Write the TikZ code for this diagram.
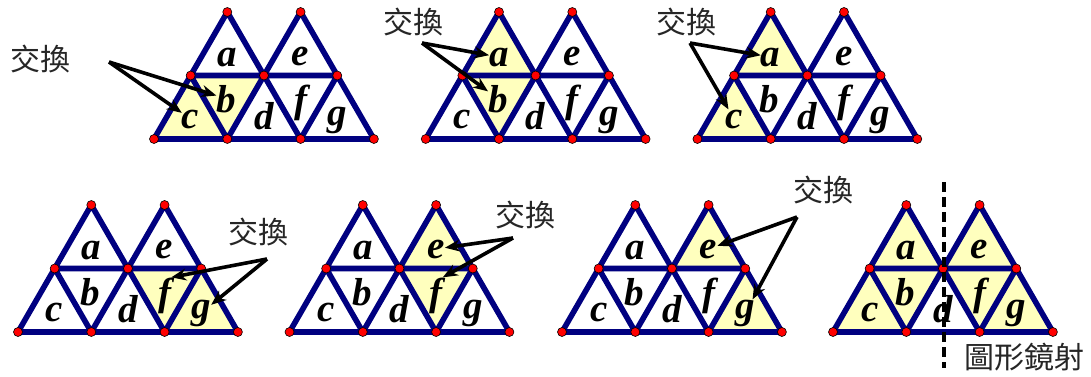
\documentclass[tikz,border=0pt]{standalone}
\usepackage{fontspec}
\setmainfont{Liberation Serif}
\newfontfamily\cellfont{Liberation Serif}[UprightFont={* Bold Italic}]
\newfontfamily\cjkfont{Noto Sans CJK TC}
\usetikzlibrary{arrows.meta}

\definecolor{gridblue}{RGB}{0,0,128}
\definecolor{cellyellow}{RGB}{255,255,190}
\definecolor{dotred}{RGB}{255,0,0}

% one seven-cell grid: #1 prefix, (#2,#3) lower left corner, #4 shaded cells
\newcommand{\trigrid}[4]{%
  \begin{scope}[shift={(#2,#3)}]
    \coordinate (#1b0) at (0,0);
    \coordinate (#1b1) at (73.3,0);
    \coordinate (#1b2) at (146.6,0);
    \coordinate (#1b3) at (219.9,0);
    \coordinate (#1m1) at (36.65,63.5);
    \coordinate (#1m2) at (109.95,63.5);
    \coordinate (#1m3) at (183.25,63.5);
    \coordinate (#1t1) at (73.3,127);
    \coordinate (#1t2) at (146.6,127);
    \foreach \u/\v/\w in {#4}
      \fill[cellfill] (#1\u) -- (#1\v) -- (#1\w) -- cycle;
    \draw[gridline] (#1b0) -- (#1b3) (#1m1) -- (#1m3)
      (#1b0) -- (#1t1) -- (#1b2) (#1b1) -- (#1t2) -- (#1b3)
      (#1m1) -- (#1b1) (#1b2) -- (#1m3);
    \foreach \p in {b0,b1,b2,b3,m1,m2,m3,t1,t2}
      \node[vertexdot] (#1\p-dot) at (#1\p) {};
    \node[cellname] (#1a) at (73.3,73) {a};
    \node[cellname] (#1e) at (146.6,74) {e};
    \node[cellname] (#1c) at (36.65,11) {c};
    \node[cellname] (#1b) at (72.3,27) {b};
    \node[cellname] (#1d) at (109.95,10) {d};
    \node[cellname] (#1f) at (146.6,27) {f};
    \node[cellname] (#1g) at (183.25,14) {g};
  \end{scope}}

\begin{document}
\begin{tikzpicture}[
    x=1pt, y=1pt,
    gridline/.style={draw=gridblue, line width=5.6pt, line cap=round, line join=round},
    cellfill/.style={fill=cellyellow},
    vertexdot/.style={
      circle, fill=dotred, draw=black, line width=0.6pt,
      minimum size=9pt, inner sep=0pt
    },
    cellname/.style={font=\fontsize{39}{39}\cellfont, inner sep=0pt, anchor=base},
    swaptext/.style={font=\fontsize{30}{30}\cjkfont, text=black!85, inner sep=0pt},
    swaparr/.style={-{Stealth[length=15pt,width=12pt]}, line width=3.6pt, black},
    mirrorline/.style={black, line width=3.4pt, dash pattern=on 10pt off 5pt},
]
\path[use as bounding box, fill=white] (0,0) rectangle (1091,376);

% ===== TOP ROW =====
\trigrid{p1}{154}{237}{m1/m2/b1, b0/m1/b1}
\trigrid{p2}{425.7}{237}{m1/t1/m2, m1/m2/b1}
\trigrid{p3}{697.4}{237}{m1/t1/m2, b0/m1/b1}

% ===== BOTTOM ROW =====
\trigrid{p4}{18}{44}{m2/m3/b2, b2/m3/b3}
\trigrid{p5}{289.5}{44}{m2/t2/m3, m2/m3/b2}
\trigrid{p6}{562}{44}{m2/t2/m3, b2/m3/b3}
\trigrid{p7}{833}{44}{m1/t1/m2, m2/t2/m3, b0/m1/b1, m1/m2/b1, m2/m3/b2, b2/m3/b3}

% ===== SWAP ARROWS =====
\node[swaptext] (sw1) at (40,317) {交換};
\coordinate (sw1fork) at (109,314);
\draw[swaparr] (sw1fork) -- (p1b);
\draw[swaparr] (sw1fork) -- (p1c);

\node[swaptext] (sw2) at (413,354) {交換};
\coordinate (sw2fork) at (422,333);
\draw[swaparr] (sw2fork) -- (p2a);
\draw[swaparr] (sw2fork) -- (p2b);

\node[swaptext] (sw3) at (686,354) {交換};
\coordinate (sw3fork) at (690,333);
\draw[swaparr] (sw3fork) -- (p3a);
\draw[swaparr] (sw3fork) -- (p3c);

\node[swaptext] (sw4) at (258,144) {交換};
\coordinate (sw4fork) at (267,117);
\draw[swaparr] (sw4fork) -- (p4f.north east);
\draw[swaparr] (sw4fork) -- (p4g);

\node[swaptext] (sw5) at (525,161) {交換};
\coordinate (sw5fork) at (513,138);
\draw[swaparr] (sw5fork) -- (p5e);
\draw[swaparr] (sw5fork) -- (p5f.north east);

\node[swaptext] (sw6) at (823,186) {交換};
\coordinate (sw6fork) at (797,159);
\draw[swaparr] (sw6fork) -- (p6e);
\draw[swaparr] (sw6fork) -- (p6g);

% ===== MIRROR LINE =====
\coordinate (mirtop) at (944,194);
\coordinate (mirbot) at (944,8);
\draw[mirrorline] (mirtop) -- (mirbot);
\node[swaptext] (mirror) at (1024,19) {圖形鏡射};

\end{tikzpicture}
\end{document}
